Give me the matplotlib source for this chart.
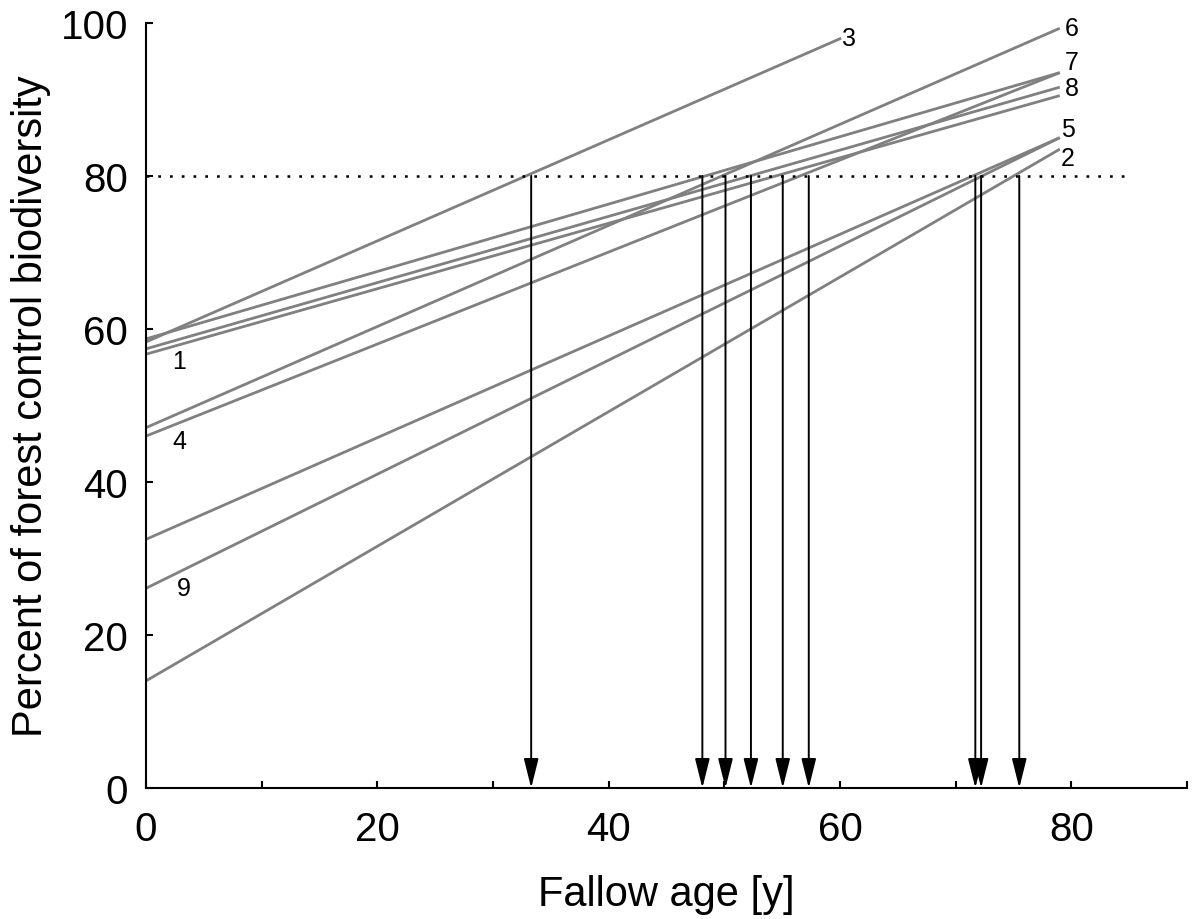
import matplotlib
matplotlib.use('Agg')
import matplotlib.pyplot as plt

plt.rcParams['font.family'] = ['Liberation Sans', 'DejaVu Sans']

# Regression lines: value at fallow age 0 and at the last age
inicio = [58.7, 58.3, 57.4, 56.7, 47.1, 46.0, 32.5, 26.1, 14.0]
fim = [93.5, 98.0, 91.6, 90.5, 99.3, 93.5, 85.0, 85.0, 83.5]
idade_fim = [79, 60.1, 79, 79, 79, 79, 79, 79, 79]

# Ages where each line reaches 80 % (arrows)
idades_80 = [33.3, 48.1, 50.1, 52.3, 55.05, 57.3, 71.7, 72.2, 75.5]
limiar = 80

# Line number labels
rotulos = ['3', '6', '7', '8', '5', '2', '1', '4', '9']
rotulos_x = [60.2, 79.4, 79.4, 79.4, 79.1, 79.1, 2.3, 2.3, 2.7]
rotulos_y = [98.0, 99.4, 94.9, 91.5, 86.1, 82.4, 55.8, 45.4, 26.1]

fig = plt.figure(figsize=(11.92, 9.2), dpi=100)
ax = fig.add_axes([0.1225, 0.1424, 0.8733, 0.8316])

for a, b, xf in zip(inicio, fim, idade_fim):
    ax.plot([0, xf], [a, b], color='#808080', lw=2.0, solid_capstyle='butt')

ax.plot([0, 85], [limiar, limiar], color='k', lw=1.8,
        linestyle=(0, (1.1, 3.6)), clip_on=False)

for idade in idades_80:
    ax.annotate('', xy=(idade, 0), xytext=(idade, limiar),
                arrowprops=dict(arrowstyle='-|>,head_length=1.8,head_width=0.45',
                                color='k', lw=1.4, shrinkA=0, shrinkB=0),
                annotation_clip=False)

for t, x, y in zip(rotulos, rotulos_x, rotulos_y):
    ax.text(x, y, t, fontsize=18, ha='left', va='center')

ax.set_xlim(0, 90)
ax.set_ylim(0, 100)
ax.set_xticks(range(0, 91, 10))
ax.set_xticklabels(['0', '', '20', '', '40', '', '60', '', '80', ''])
ax.set_yticks(range(0, 101, 20))

ax.spines['top'].set_visible(False)
ax.spines['right'].set_visible(False)
ax.spines['left'].set_linewidth(1.5)
ax.spines['bottom'].set_linewidth(1.5)
ax.tick_params(direction='in', length=5, width=1.5, labelsize=29)
ax.tick_params(axis='x', pad=15.5)
ax.tick_params(axis='y', pad=13)

ax.set_xlabel('Fallow age [y]', fontsize=30, labelpad=19)
ax.set_ylabel('Percent of forest control biodiversity', fontsize=30, labelpad=6.5)

fig.savefig('out.png', dpi=100)
